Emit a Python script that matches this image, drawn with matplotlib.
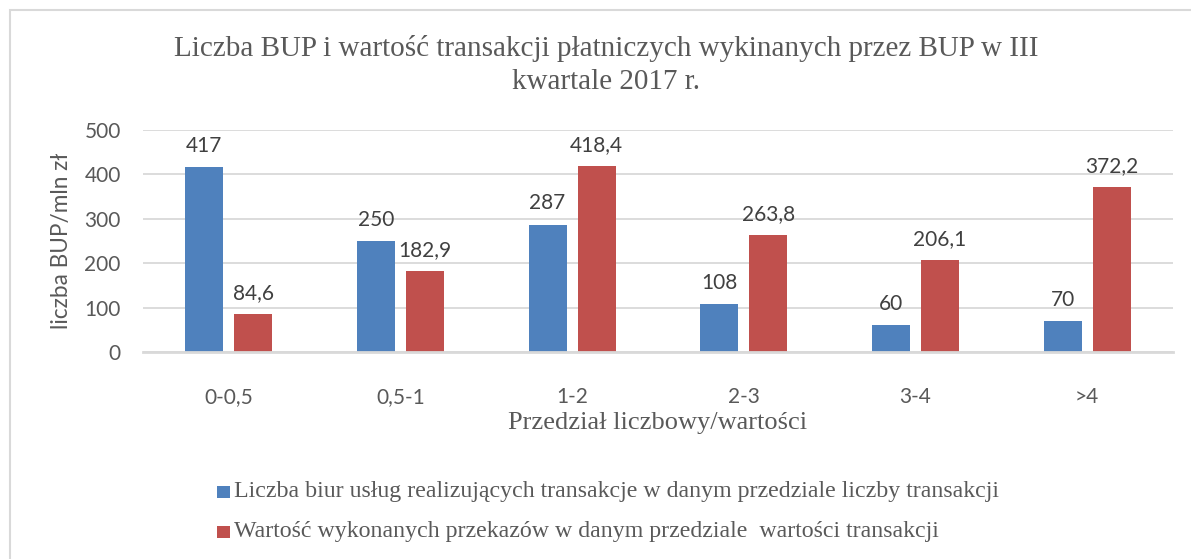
import matplotlib
matplotlib.use("Agg")
import matplotlib.pyplot as plt
from matplotlib.patches import Rectangle
import numpy as np

categories = ["0-0,5", "0,5-1", "1-2", "2-3", "3-4", ">4"]
liczba = [417, 250, 287, 108, 60, 70]
wartosc = [84.6, 182.9, 418.4, 263.8, 206.1, 372.2]
labels_l = ["417", "250", "287", "108", "60", "70"]
labels_w = ["84,6", "182,9", "418,4", "263,8", "206,1", "372,2"]
series_names = ["Liczba biur usług realizujących transakcje w danym przedziale liczby transakcji",
                "Wartość wykonanych przekazów w danym przedziale  wartości transakcji"]
yticks = [0, 100, 200, 300, 400, 500]

W, H = 1191, 559
fig = plt.figure(figsize=(W/100, H/100), dpi=100)
ax = fig.add_axes([143/W, 1-352/H, (1173-143)/W, (352-130)/H])

blue = "#4F81BD"
red = "#C0504D"
x = np.arange(len(categories))
bw = 0.222
off = 0.143
b1 = ax.bar(x - off, liczba, bw, color=blue, zorder=3)
b2 = ax.bar(x + off, wartosc, bw, color=red, zorder=3)
for rect, lab in zip(b1, labels_l):
    ax.text(rect.get_x()+rect.get_width()/2, rect.get_height()+25, lab, ha="center", va="bottom",
            fontsize=15, color="#404040", family="Lato")
for rect, lab in zip(b2, labels_w):
    ax.text(rect.get_x()+rect.get_width()/2, rect.get_height()+25, lab, ha="center", va="bottom",
            fontsize=15, color="#404040", family="Lato")

ax.set_xlim(-0.5, len(categories)-0.5)
ax.set_ylim(0, 500)
ax.set_yticks(yticks)
ax.set_yticklabels([str(t) for t in yticks], family="Lato", fontsize=15, color="#595959")
ax.set_xticks(x)
ax.set_xticklabels(categories, family="Lato", fontsize=15, color="#595959")
ax.tick_params(axis="both", length=0)
ax.tick_params(axis="x", pad=25)
ax.tick_params(axis="y", pad=16)
ax.grid(axis="y", color="#D9D9D9", lw=1.3, zorder=0)
for s in ["top", "right", "left"]:
    ax.spines[s].set_visible(False)
ax.spines["bottom"].set_color("#D9D9D9")
ax.spines["bottom"].set_linewidth(2)
ax.spines["bottom"].set_zorder(4)

ax.set_ylabel("liczba BUP/mln zł", family="Lato", fontsize=16.3, color="#595959", labelpad=9)
ax.set_xlabel("Przedział liczbowy/wartości", family="Liberation Serif", fontsize=19, color="#595959", labelpad=4)

fig.text(606/W, 1-65/H, "Liczba BUP i wartość transakcji płatniczych wykinanych przez BUP w III\nkwartale 2017 r.",
         ha="center", va="center", family="Liberation Serif", fontsize=21, color="#595959", linespacing=1.35)

# legend
for i, (name, col) in enumerate(zip(series_names, [blue, red])):
    yc = 1 - (492 + 40*i)/H
    fig.patches.append(Rectangle((217/W, yc - 6/H), 13/W, 12/H, transform=fig.transFigure,
                                 facecolor=col, edgecolor="none"))
    fig.text(234/W, yc, name, ha="left", va="center", family="Liberation Serif", fontsize=17.2, color="#595959")

# border
fig.patches.append(Rectangle((10/W, -0.1), 1.2, 1.1 - 10/H, transform=fig.transFigure,
                             facecolor="none", edgecolor="#D9D9D9", lw=1.5))

fig.savefig("out.png", dpi=100)
